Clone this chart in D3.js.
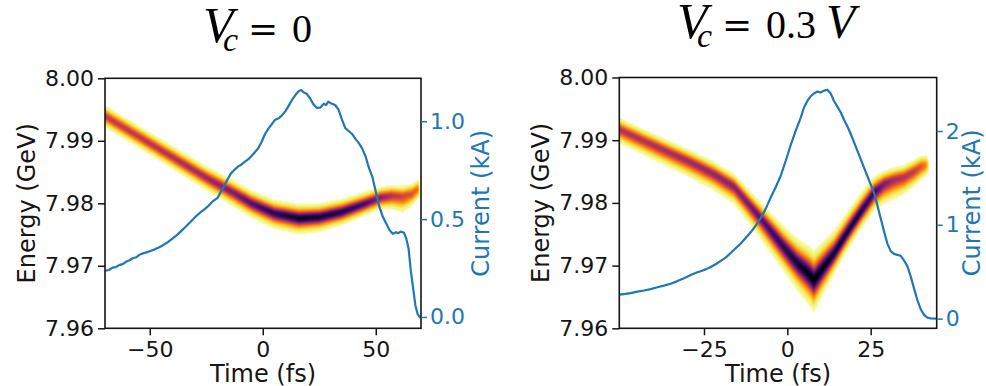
<!DOCTYPE html>
<html><head><meta charset="utf-8">
<script src="https://cdn.jsdelivr.net/npm/d3@7"></script>
<style>
html,body{margin:0;padding:0;background:#fff;}
svg{display:block;}
</style></head>
<body>
<svg id="fig" width="986" height="386"></svg>
<script>
// ---------- tick values ----------
const energyTicks = [7.96, 7.97, 7.98, 7.99, 8.00];
const timeTicksA = [-50, 0, 50];
const currentTicksA = [0, 0.5, 1.0];
const timeTicksB = [-25, 0, 25];
const currentTicksB = [0, 1, 2];

// ---------- current profiles [time fs, current kA] ----------
const currentA = [[-69.7,0.236],[-68,0.240],[-66.5,0.252],[-65,0.255],[-63.5,0.265],[-62,0.270],[-60.5,0.282],[-59,0.290],[-57.5,0.300],[-56,0.305],[-54.5,0.318],[-53,0.325],[-51.5,0.330],[-50,0.336],[-48,0.345],[-46,0.355],[-44,0.368],[-42,0.382],[-40,0.400],[-38,0.418],[-36,0.440],[-34,0.462],[-32,0.485],[-30,0.510],[-28,0.530],[-26,0.548],[-24,0.568],[-22,0.592],[-20,0.608],[-18.5,0.640],[-17,0.672],[-15.5,0.705],[-14,0.735],[-12.5,0.752],[-11,0.768],[-9.5,0.778],[-8,0.792],[-6.5,0.805],[-5,0.822],[-3.5,0.842],[-2,0.862],[-0.5,0.895],[1,0.935],[2.5,0.962],[4,0.985],[5.5,1.008],[7,1.015],[8.5,1.030],[10,1.052],[11.5,1.080],[13,1.110],[14.5,1.135],[16,1.155],[17,1.160],[18,1.148],[19.5,1.140],[21,1.115],[22.5,1.085],[24,1.068],[25.5,1.070],[27,1.090],[28,1.082],[29,1.100],[30.5,1.090],[32,1.083],[33.5,1.060],[35,1.010],[36.5,0.965],[38,0.950],[39.5,0.935],[41,0.910],[42.5,0.888],[44,0.860],[45.5,0.820],[47,0.760],[48.5,0.715],[50,0.640],[51.5,0.566],[53,0.515],[54.5,0.480],[56,0.445],[57.5,0.425],[59,0.433],[60,0.428],[61,0.436],[62.5,0.430],[63.5,0.400],[64.5,0.350],[65.5,0.235],[66.5,0.150],[67.5,0.060],[68.5,0.015],[69.7,-0.005]];

const currentB = [[-50.4,0.255],[-49,0.262],[-47,0.272],[-45,0.288],[-43,0.300],[-41,0.315],[-39,0.335],[-37,0.352],[-35,0.372],[-33,0.400],[-31,0.430],[-29,0.465],[-27,0.495],[-26,0.505],[-24.5,0.525],[-23,0.550],[-21.5,0.580],[-20,0.615],[-18.5,0.650],[-17,0.700],[-15.5,0.750],[-14,0.800],[-12.5,0.860],[-11,0.920],[-9.5,0.990],[-8,1.070],[-6.5,1.170],[-5,1.290],[-3.5,1.400],[-2,1.520],[-0.5,1.680],[1,1.850],[2.5,2.000],[4,2.140],[5,2.250],[6,2.320],[7,2.370],[8,2.400],[9,2.420],[10,2.410],[11,2.430],[12,2.440],[13,2.400],[14,2.320],[15,2.260],[16,2.200],[17,2.120],[18,2.050],[19,1.970],[20,1.880],[21,1.790],[22,1.700],[23,1.610],[24,1.520],[25,1.430],[26,1.340],[27,1.210],[28,1.070],[29,0.930],[30,0.800],[31,0.720],[32,0.690],[33,0.680],[34,0.670],[35,0.620],[36,0.560],[37,0.450],[38,0.320],[39,0.200],[40,0.100],[41,0.040],[42,0.010],[43,0.003],[44.8,0.0]];

// ---------- longitudinal phase space: centroid (GeV), rms widths below/above (MeV), peak density ----------
const bandTimeA   = [-70, -55, -40, -25, -13, -5, 5, 16, 25, 35, 45, 52, 57, 62, 66, 68.5, 69.5];
const bandCenterA = [7.9940, 7.9907, 7.9874, 7.9841, 7.9817, 7.9800, 7.9784, 7.9776, 7.9778, 7.9786, 7.9799, 7.9809, 7.9812, 7.9811, 7.9815, 7.9822, 7.9822];
const bandSigLoA  = [0.64, 0.64, 0.66, 0.70, 0.76, 0.78, 0.82, 0.84, 0.78, 0.70, 0.64, 0.64, 0.76, 0.90, 0.70, 0.58, 0.58];
const bandSigHiA  = [0.62, 0.62, 0.63, 0.65, 0.68, 0.70, 0.72, 0.76, 0.72, 0.70, 0.64, 0.60, 0.60, 0.60, 0.60, 0.58, 0.58];
const bandPeakA   = [0.48, 0.50, 0.53, 0.58, 0.66, 0.76, 0.86, 0.95, 0.93, 0.89, 0.80, 0.64, 0.52, 0.45, 0.40, 0.33, 0.0];

const bandTimeB   = [-50.4, -43, -36, -29, -22, -16, -12, -9, -5, -1, 3, 6, 8, 10, 14, 18, 22, 26, 29, 32, 35, 38, 40, 41.5, 42.5];
const bandCenterB = [7.9917, 7.9899, 7.9882, 7.9865, 7.9846, 7.9826, 7.9801, 7.9782, 7.9756, 7.9729, 7.9704, 7.9689, 7.9677, 7.9691, 7.9719, 7.9753, 7.9785, 7.9816, 7.9830, 7.9837, 7.9841, 7.9850, 7.9857, 7.9860, 7.9860];
const bandSigLoB  = [0.76, 0.80, 0.84, 0.88, 0.90, 0.96, 1.02, 1.08, 1.20, 1.28, 1.44, 1.60, 1.68, 1.44, 1.08, 0.96, 0.92, 0.96, 1.08, 1.08, 0.96, 0.84, 0.76, 0.66, 0.58];
const bandSigHiB  = [0.66, 0.64, 0.64, 0.66, 0.68, 0.72, 0.78, 0.84, 0.96, 1.12, 1.28, 1.44, 1.52, 1.44, 1.20, 1.08, 1.00, 0.88, 0.74, 0.68, 0.68, 0.68, 0.66, 0.62, 0.58];
const bandPeakB   = [0.52, 0.53, 0.55, 0.57, 0.60, 0.63, 0.67, 0.72, 0.80, 0.86, 0.92, 0.97, 1.00, 0.98, 0.93, 0.92, 0.90, 0.82, 0.66, 0.56, 0.52, 0.48, 0.40, 0.28, 0.0];

// ---------- drawing ----------
const svg = d3.select("#fig");
const BLUE = "#1f77b4";
const INK = "#151515";
const SANS = "'DejaVu Sans', sans-serif";
const SERIF = "'Liberation Serif', 'Times New Roman', serif";

function drawBand(g, x, y, band) {
  const [x0, x1] = x.range();
  const [yb, yt] = y.range();
  const w = Math.round(x1 - x0), h = Math.round(yb - yt);
  const cen = d3.scaleLinear().domain(band.t).range(band.center).clamp(true);
  const sLo = d3.scaleLinear().domain(band.t).range(band.sigLo).clamp(true);
  const sHi = d3.scaleLinear().domain(band.t).range(band.sigHi).clamp(true);
  const pk  = d3.scaleLinear().domain(band.t).range(band.peak).clamp(true);
  const [t0, t1] = d3.extent(band.t);
  const canvas = document.createElement("canvas");
  canvas.width = w; canvas.height = h;
  const ctx = canvas.getContext("2d");
  const img = ctx.createImageData(w, h);
  const thr = 0.008;
  for (let i = 0; i < w; i++) {
    const t = x.invert(x0 + i + 0.5);
    if (t < t0 || t > t1) continue;
    const c = cen(t), a = pk(t), lo = sLo(t) / 1000, hi = sHi(t) / 1000;
    if (a <= thr) continue;
    for (let j = 0; j < h; j++) {
      const e = y.invert(yt + j + 0.5);
      const d = e - c;
      const s = d < 0 ? lo : hi;
      const v = a * Math.exp(-0.5 * (d / s) * (d / s));
      if (v < thr) continue;
      const col = d3.rgb(d3.interpolateInferno(1 - Math.min(1, v)));
      const k = (j * w + i) * 4;
      img.data[k] = col.r; img.data[k + 1] = col.g; img.data[k + 2] = col.b; img.data[k + 3] = 255;
    }
  }
  ctx.putImageData(img, 0, 0);
  g.append("image")
    .attr("x", x0).attr("y", yt).attr("width", w).attr("height", h)
    .attr("href", canvas.toDataURL());
}

function panel(cfg) {
  const x = d3.scaleLinear().domain(cfg.timeDomain).range([cfg.left, cfg.right]);
  const yE = d3.scaleLinear().domain([7.96, 8.00]).range([cfg.bottom, cfg.top]);
  const yI = d3.scaleLinear().domain(cfg.currentDomain).range([cfg.bottom, cfg.top]);
  const g = svg.append("g");

  const clipId = "clip" + cfg.id;
  svg.append("clipPath").attr("id", clipId).append("rect")
    .attr("x", cfg.left).attr("y", cfg.top)
    .attr("width", cfg.right - cfg.left).attr("height", cfg.bottom - cfg.top);

  const plot = g.append("g").attr("clip-path", `url(#${clipId})`);
  drawBand(plot, x, yE, cfg.band);

  plot.append("path").datum(cfg.current)
    .attr("fill", "none").attr("stroke", BLUE).attr("stroke-width", 2.2)
    .attr("stroke-linejoin", "round")
    .attr("d", d3.line().x(d => x(d[0])).y(d => yI(d[1])));

  // frame
  g.append("rect")
    .attr("x", cfg.left).attr("y", cfg.top)
    .attr("width", cfg.right - cfg.left).attr("height", cfg.bottom - cfg.top)
    .attr("fill", "none").attr("stroke", INK).attr("stroke-width", 1.6);

  const styleAxis = (sel, color, size) => {
    sel.select(".domain").remove();
    sel.selectAll(".tick line").attr("stroke", color).attr("stroke-width", 1.5);
    sel.selectAll(".tick text").attr("fill", color)
      .style("font-family", SANS).style("font-size", size + "px");
  };

  g.append("g").attr("transform", `translate(0,${cfg.bottom})`)
    .call(d3.axisBottom(x).tickValues(cfg.timeTicks).tickFormat(d3.format("d")).tickSize(7).tickPadding(6))
    .call(s => styleAxis(s, INK, 22));

  g.append("g").attr("transform", `translate(${cfg.left},0)`)
    .call(d3.axisLeft(yE).tickValues(energyTicks).tickFormat(d3.format(".2f")).tickSize(7).tickPadding(4))
    .call(s => styleAxis(s, INK, 22));

  g.append("g").attr("transform", `translate(${cfg.right},0)`)
    .call(d3.axisRight(yI).tickValues(cfg.currentTicks).tickFormat(d3.format(cfg.currentFormat)).tickSize(6).tickPadding(3))
    .call(s => styleAxis(s, BLUE, 22));

  const midY = (cfg.top + cfg.bottom) / 2;
  g.append("text").text("Time (fs)")
    .attr("x", (cfg.left + cfg.right) / 2).attr("y", 382)
    .attr("text-anchor", "middle").attr("fill", INK)
    .style("font-family", SANS).style("font-size", "24px");
  g.append("text").text("Energy (GeV)")
    .attr("transform", `translate(${cfg.left - 70},${midY}) rotate(-90)`)
    .attr("text-anchor", "middle").attr("fill", INK)
    .style("font-family", SANS).style("font-size", "24px");
  g.append("text").text("Current (kA)")
    .attr("transform", `translate(${cfg.currentLabelX},${midY}) rotate(-90)`)
    .attr("text-anchor", "middle").attr("fill", BLUE)
    .style("font-family", SANS).style("font-size", "24px");

  // title: V_c = value
  const tg = g.append("g").attr("fill", "#000");
  const tx = cfg.titleX, ty = cfg.titleY;
  tg.append("text").text("V").attr("x", tx).attr("y", ty)
    .style("font-family", SERIF).style("font-style", "italic").style("font-size", "50px");
  tg.append("text").text("c").attr("x", tx + 20).attr("y", ty + 9)
    .style("font-family", SERIF).style("font-style", "italic").style("font-size", "34px");
  tg.append("text").text("=").attr("x", tx + 45).attr("y", ty - 1)
    .style("font-family", "'DejaVu Serif', serif").style("font-size", "36px");
  tg.append("text").text(cfg.titleValue).attr("x", tx + 89).attr("y", ty)
    .style("font-family", SERIF).style("font-size", "40px");
  if (cfg.titleUnit) {
    tg.append("text").text(cfg.titleUnit).attr("x", tx + 149).attr("y", ty)
      .style("font-family", SERIF).style("font-style", "italic").style("font-size", "48px");
  }
}

panel({
  id: "A", left: 105, right: 421, top: 78.3, bottom: 328.3,
  timeDomain: [-69.8, 70], currentDomain: [-0.058, 1.2195],
  timeTicks: timeTicksA, currentTicks: currentTicksA, currentFormat: ".1f",
  current: currentA,
  band: { t: bandTimeA, center: bandCenterA, sigLo: bandSigLoA, sigHi: bandSigHiA, peak: bandPeakA },
  currentLabelX: 489, titleX: 203, titleY: 42, titleValue: "0"
});

panel({
  id: "B", left: 619.3, right: 936.7, top: 77.5, bottom: 328.3,
  timeDomain: [-50.4, 44.8], currentDomain: [-0.103, 2.57],
  timeTicks: timeTicksB, currentTicks: currentTicksB, currentFormat: "d",
  current: currentB,
  band: { t: bandTimeB, center: bandCenterB, sigLo: bandSigLoB, sigHi: bandSigHiB, peak: bandPeakB },
  currentLabelX: 980, titleX: 677, titleY: 37.5, titleValue: "0.3", titleUnit: "V"
});
</script>
</body></html>
